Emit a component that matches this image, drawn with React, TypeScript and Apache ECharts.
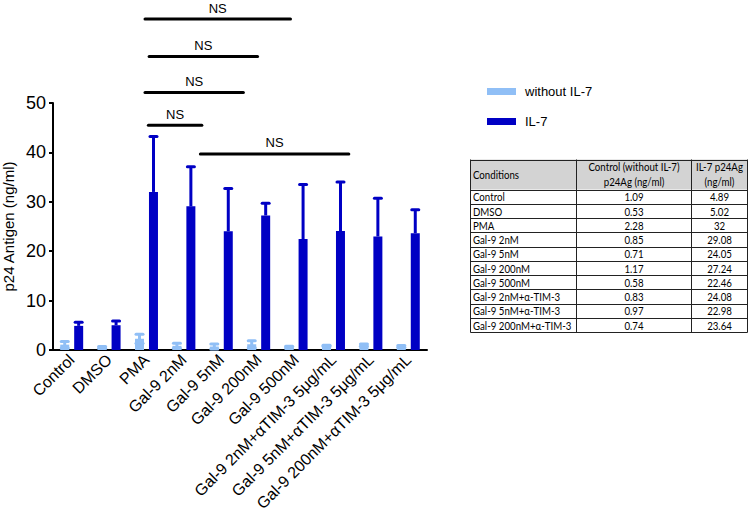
import React, { useEffect, useRef } from "react";
import * as echarts from "echarts";

const categories = [
  "Control",
  "DMSO",
  "PMA",
  "Gal-9 2nM",
  "Gal-9 5nM",
  "Gal-9 200nM",
  "Gal-9 500nM",
  "Gal-9 2nM+αTIM-3 5μg/mL",
  "Gal-9 5nM+αTIM-3 5μg/mL",
  "Gal-9 200nM+αTIM-3 5μg/mL",
];
const withoutIL7 = [1.09, 0.53, 2.28, 0.85, 0.71, 1.17, 0.58, 0.83, 0.97, 0.74];
const withIL7 = [4.89, 5.02, 32, 29.08, 24.05, 27.24, 22.46, 24.08, 22.98, 23.64];
const withoutIL7ErrTop = [1.75, 0.7, 3.2, 1.35, 1.2, 1.9, 0.75, 0.95, 1.2, 0.9];
const withIL7ErrTop = [5.6, 5.9, 43.2, 37.1, 32.7, 29.7, 33.5, 34.0, 30.7, 28.4];
const yTicks = [0, 10, 20, 30, 40, 50];

const tableConditions = [
  "Control",
  "DMSO",
  "PMA",
  "Gal-9 2nM",
  "Gal-9 5nM",
  "Gal-9 200nM",
  "Gal-9 500nM",
  "Gal-9 2nM+α-TIM-3",
  "Gal-9 5nM+α-TIM-3",
  "Gal-9 200nM+α-TIM-3",
];
const tableHeaders = ["Conditions", "Control (without IL-7)\np24Ag (ng/ml)", "IL-7 p24Ag\n(ng/ml)"];

// NS comparison brackets: fractional category positions and y value (data units)
const nsFrom = [1.96, 2.07, 1.96, 2.05, 3.44];
const nsTo = [5.85, 4.97, 4.59, 3.48, 7.41];
const nsLevel = [67.0, 59.4, 52.1, 45.5, 39.7];

const LIGHT = "#90bff6";
const DARK = "#0000c4";
const FONT = "Liberation Sans, Arial, sans-serif";
const TFONT = "Lato, sans-serif";

const BAR_W = 9;
const BAR_GAP = 0.55;
const OFFSET = (BAR_W + BAR_W * BAR_GAP) / 2;

function errRender(offsetSign: number, color: string, symmetric: boolean) {
  return (params: any, api: any) => {
    const i = api.value(0);
    const v = api.value(1);
    const hi = api.value(2);
    const lo = symmetric ? v - (hi - v) : v;
    const pTop = api.coord([i, hi]);
    const pLo = api.coord([i, lo]);
    const x = pTop[0] + offsetSign * OFFSET;
    const style = { stroke: color, lineWidth: 3, lineCap: "round" };
    const children: any[] = [
      { type: "line", shape: { x1: x, y1: pLo[1], x2: x, y2: pTop[1] }, style: { stroke: color, lineWidth: 3 } },
      { type: "line", shape: { x1: x - 3.5, y1: pTop[1], x2: x + 3.5, y2: pTop[1] }, style },
    ];
    if (symmetric) {
      children.push({ type: "line", shape: { x1: x - 3.5, y1: pLo[1], x2: x + 3.5, y2: pLo[1] }, style });
    }
    return { type: "group", children };
  };
}

export default function App() {
  const ref = useRef<HTMLDivElement>(null);
  useEffect(() => {
    const chart = echarts.init(ref.current as HTMLDivElement, null, { renderer: "svg" });
    const option: any = {
      animation: false,
      backgroundColor: "#ffffff",
      grid: { left: 52, right: 323, top: 103, bottom: 162, containLabel: false },
      legend: {
        data: ["without IL-7", "IL-7"],
        orient: "vertical",
        left: 482,
        top: 80,
        itemWidth: 29,
        itemHeight: 7,
        itemGap: 17,
        icon: "rect",
        textStyle: { fontSize: 13, fontFamily: FONT, color: "#000", padding: [0, 0, 0, 4] },
      },
      xAxis: {
        type: "category",
        data: categories,
        axisLine: { lineStyle: { color: "#000", width: 2 } },
        axisTick: { alignWithLabel: true, length: 4, lineStyle: { color: "#000", width: 2 } },
        axisLabel: { rotate: 45, interval: 0, fontSize: 16, fontFamily: FONT, color: "#000", margin: 7 },
      },
      yAxis: {
        type: "value",
        min: yTicks[0],
        max: yTicks[yTicks.length - 1],
        interval: 10,
        name: "p24 Antigen (ng/ml)",
        nameLocation: "middle",
        nameGap: 37,
        nameTextStyle: { fontSize: 15, fontFamily: FONT, color: "#000" },
        axisLine: { show: true, lineStyle: { color: "#000", width: 2 } },
        axisTick: { show: true, length: 4, lineStyle: { color: "#000", width: 2 } },
        axisLabel: { fontSize: 18, fontFamily: FONT, color: "#000", margin: 7 },
        splitLine: { show: false },
      },
      series: [
        {
          name: "without IL-7",
          type: "bar",
          data: withoutIL7,
          barWidth: BAR_W,
          barGap: "55%",
          itemStyle: { color: LIGHT },
        },
        {
          name: "IL-7",
          type: "bar",
          data: withIL7,
          barWidth: BAR_W,
          barGap: "55%",
          itemStyle: { color: DARK },
        },
        {
          name: "errWithout",
          type: "custom",
          renderItem: errRender(-1, LIGHT, true),
          data: withoutIL7.map((v, i) => [i, v, withoutIL7ErrTop[i]]),
          z: 3,
          silent: true,
        },
        {
          name: "errWith",
          type: "custom",
          renderItem: errRender(1, DARK, false),
          data: withIL7.map((v, i) => [i, v, withIL7ErrTop[i]]),
          z: 3,
          silent: true,
        },
      ],
    };
    chart.setOption(option);

    const x0 = chart.convertToPixel({ xAxisIndex: 0 }, 0) as number;
    const x1 = chart.convertToPixel({ xAxisIndex: 0 }, 1) as number;
    const xp = (f: number) => x0 + (x1 - x0) * f;
    const yp = (v: number) => chart.convertToPixel({ yAxisIndex: 0 }, v) as number;

    const graphics: any[] = [];
    nsFrom.forEach((f, k) => {
      const xa = xp(f);
      const xb = xp(nsTo[k]);
      const y = yp(nsLevel[k]);
      graphics.push({
        type: "line",
        shape: { x1: xa, y1: y, x2: xb, y2: y },
        style: { stroke: "#000", lineWidth: 3, lineCap: "round" },
      });
      graphics.push({
        type: "text",
        x: (xa + xb) / 2,
        y: y - 11,
        style: { text: "NS", fill: "#000", font: `13px ${FONT}`, align: "center", verticalAlign: "middle" },
      });
    });

    // Table
    const colX = [470.5, 576.5, 691.5, 747.5];
    const headTop = 159.5;
    const headH = 30;
    const rowH = 14.25;
    const tableBottom = headTop + headH + rowH * tableConditions.length;
    graphics.push({
      type: "rect",
      shape: { x: colX[0], y: headTop, width: colX[3] - colX[0], height: headH },
      style: { fill: "#d3d3d3" },
    });
    const hLines = [headTop, headTop + headH];
    tableConditions.forEach((_, i) => hLines.push(headTop + headH + rowH * (i + 1)));
    hLines.forEach((y) => {
      graphics.push({
        type: "line",
        shape: { x1: colX[0], y1: Math.round(y) + 0.5, x2: colX[3], y2: Math.round(y) + 0.5 },
        style: { stroke: "#222", lineWidth: 1 },
      });
    });
    colX.forEach((x) => {
      graphics.push({
        type: "line",
        shape: { x1: x, y1: headTop, x2: x, y2: Math.round(tableBottom) + 0.5 },
        style: { stroke: "#222", lineWidth: 1 },
      });
    });
    const tstyle = (align: string) => ({ fill: "#000", font: `11px ${TFONT}`, align, verticalAlign: "middle", lineHeight: 15 });
    const txt = (x: number, y: number, align: string, text: string) => ({
      type: "text",
      x,
      y,
      scaleX: 0.88,
      style: { ...tstyle(align), text },
    });
    graphics.push(txt(473, headTop + headH / 2, "left", tableHeaders[0]));
    graphics.push(txt((colX[1] + colX[2]) / 2, headTop + headH / 2, "center", tableHeaders[1]));
    graphics.push(txt((colX[2] + colX[3]) / 2, headTop + headH / 2, "center", tableHeaders[2]));
    tableConditions.forEach((c, i) => {
      const y = headTop + headH + rowH * (i + 0.5) + 0.5;
      graphics.push(txt(473, y, "left", c));
      graphics.push(txt((colX[1] + colX[2]) / 2, y, "center", String(withoutIL7[i])));
      graphics.push(txt((colX[2] + colX[3]) / 2, y, "center", String(withIL7[i])));
    });

    chart.setOption({ graphic: graphics });
    return () => chart.dispose();
  }, []);
  return <div ref={ref} style={{ position: "fixed", left: 0, top: 0, width: 750, height: 514 }} />;
}
